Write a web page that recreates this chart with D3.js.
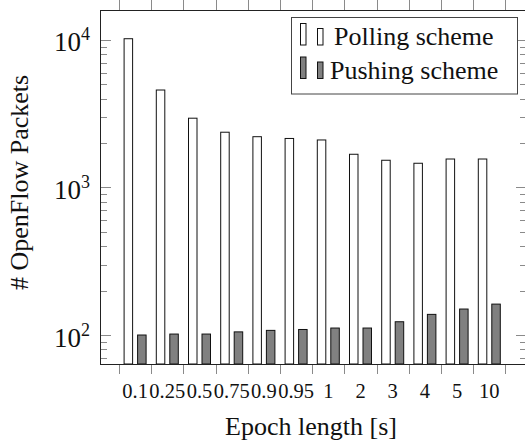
<!DOCTYPE html>
<html>
<head>
<meta charset="utf-8">
<script src="https://cdn.jsdelivr.net/npm/d3@7"></script>
<style>
  body { margin: 0; background: #fff; }
  svg { display: block; }
  text { font-family: "Liberation Serif", "Times New Roman", Times, "DejaVu Serif", serif; }
</style>
</head>
<body>
<svg id="chart" width="525" height="440"></svg>
<script>
// categories and values
var epochs = ["0.1", "0.25", "0.5", "0.75", "0.9", "0.95", "1", "2", "3", "4", "5", "10"];
var polling = [10200, 4580, 2950, 2370, 2210, 2150, 2100, 1680, 1530, 1460, 1560, 1560];
var pushing = [100, 101.5, 101.5, 105, 107.5, 109, 111.5, 111.5, 123, 138, 150, 162];
var seriesNames = ["Polling scheme", "Pushing scheme"];
var majorTicks = [100, 1000, 10000];

var svg = d3.select("#chart");
var serif = "Liberation Serif, Times New Roman, serif";

// plot frame
var pLeft = 100, pRight = 527, pTop = 10, pBottom = 364;

var x = d3.scaleBand()
    .domain(epochs)
    .range([119, 505.4])
    .padding(0);

var x1 = d3.scaleBand()
    .domain(seriesNames)
    .range([x.bandwidth() / 2 - 11, x.bandwidth() / 2 + 11])
    .paddingInner(0.37);

var y = d3.scaleLog()
    .domain([63.6, 15970])
    .range([pBottom, pTop]);

var colors = {"Polling scheme": "#ffffff", "Pushing scheme": "#808080"};

// bars
var rows = epochs.map(function(e, i) {
  return {epoch: e, values: [
    {name: seriesNames[0], v: polling[i]},
    {name: seriesNames[1], v: pushing[i]}
  ]};
});

var groups = svg.append("g").selectAll("g")
    .data(rows)
    .enter().append("g")
    .attr("transform", function(d) { return "translate(" + x(d.epoch) + ",0)"; });

groups.selectAll("rect")
    .data(function(d) { return d.values; })
    .enter().append("rect")
    .attr("x", function(d) { return x1(d.name); })
    .attr("width", x1.bandwidth())
    .attr("y", function(d) { return y(d.v); })
    .attr("height", function(d) { return pBottom - y(d.v); })
    .attr("fill", function(d) { return colors[d.name]; })
    .attr("stroke", "#111")
    .attr("stroke-width", 1);

// y ticks (minor + major), inside on left and right
var minor = [];
[10, 100, 1000, 10000].forEach(function(dec) {
  for (var k = 2; k <= 9; k++) {
    var v = dec * k;
    if (v > y.domain()[0] && v < y.domain()[1]) minor.push(v);
  }
});

var tickG = svg.append("g").attr("stroke", "#8a8a8a").attr("stroke-width", 1);
minor.forEach(function(v) {
  var yy = Math.round(y(v)) + 0.5;
  tickG.append("line").attr("x1", pLeft).attr("x2", pLeft + 7).attr("y1", yy).attr("y2", yy);
  tickG.append("line").attr("x1", pRight - 7).attr("x2", pRight).attr("y1", yy).attr("y2", yy);
});
majorTicks.forEach(function(v) {
  var yy = Math.round(y(v)) + 0.5;
  tickG.append("line").attr("x1", pLeft).attr("x2", pLeft + 11).attr("y1", yy).attr("y2", yy);
  tickG.append("line").attr("x1", pRight - 11).attr("x2", pRight).attr("y1", yy).attr("y2", yy);
});

// x ticks at band boundaries, outside on bottom and top
var bounds = epochs.map(function(e) { return x(e); }).concat([x(epochs[epochs.length - 1]) + x.bandwidth()]);
bounds.forEach(function(b) {
  var xx = Math.round(b) + 0.5;
  tickG.append("line").attr("x1", xx).attr("x2", xx).attr("y1", pBottom).attr("y2", pBottom + 10);
  tickG.append("line").attr("x1", xx).attr("x2", xx).attr("y1", pTop).attr("y2", pTop - 10);
});

// frame
svg.append("rect")
    .attr("x", pLeft + 0.5).attr("y", pTop + 0.5)
    .attr("width", pRight - pLeft).attr("height", pBottom - pTop)
    .attr("fill", "none")
    .attr("stroke", "#222")
    .attr("stroke-width", 1);

// x tick labels
svg.append("g").selectAll("text")
    .data(epochs)
    .enter().append("text")
    .attr("x", function(d) { return x(d) + x.bandwidth() / 2; })
    .attr("y", 398)
    .attr("text-anchor", "middle")
    .attr("font-family", serif)
    .attr("font-size", "20.5px")
    .attr("fill", "#111")
    .text(function(d) { return d; });

// y tick labels 10^n
var yl = svg.append("g").selectAll("text")
    .data(majorTicks)
    .enter().append("text")
    .attr("x", 90)
    .attr("y", function(d) { return y(d) + 11.5; })
    .attr("text-anchor", "end")
    .attr("font-family", serif)
    .attr("font-size", "27px")
    .attr("fill", "#111");
yl.append("tspan").text("10");
yl.append("tspan")
    .attr("font-size", "18px")
    .attr("dy", "-11")
    .text(function(d) { return Math.round(Math.log10(d)); });

// axis labels
svg.append("text")
    .attr("x", 311)
    .attr("y", 435)
    .attr("text-anchor", "middle")
    .attr("font-family", serif)
    .attr("font-size", "26px")
    .attr("fill", "#111")
    .text("Epoch length [s]");

svg.append("text")
    .attr("transform", "translate(27.5,182.5) rotate(-90)")
    .attr("text-anchor", "middle")
    .attr("font-family", serif)
    .attr("font-size", "26px")
    .attr("fill", "#111")
    .text("# OpenFlow Packets");

// legend
var lg = svg.append("g");
lg.append("rect")
    .attr("x", 291.5).attr("y", 17.5)
    .attr("width", 226).attr("height", 76.5)
    .attr("fill", "#fff")
    .attr("stroke", "#444")
    .attr("stroke-width", 1);

var legendRows = lg.selectAll("g")
    .data(seriesNames)
    .enter().append("g")
    .attr("transform", function(d, i) { return "translate(0," + (i * 33.5) + ")"; });

legendRows.append("rect")
    .attr("x", 300.5).attr("y", 23.5).attr("width", 5.5).attr("height", 21.5)
    .attr("fill", function(d) { return colors[d]; })
    .attr("stroke", "#111");
legendRows.append("rect")
    .attr("x", 317.5).attr("y", 28.5).attr("width", 5.5).attr("height", 16.5)
    .attr("fill", function(d) { return colors[d]; })
    .attr("stroke", "#111");
legendRows.append("text")
    .attr("x", function(d, i) { return i === 0 ? 334 : 330; })
    .attr("y", 45)
    .attr("font-family", serif)
    .attr("font-size", "26px")
    .attr("fill", "#111")
    .text(function(d) { return d; });
</script>
</body>
</html>
